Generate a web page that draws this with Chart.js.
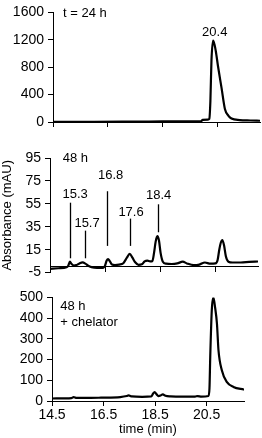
<!DOCTYPE html>
<html>
<head>
<meta charset="utf-8">
<script src="https://cdn.jsdelivr.net/npm/chart.js@4.4.1/dist/chart.umd.min.js"></script>
<style>
  html, body { margin: 0; padding: 0; background: #fff; }
  #wrap { position: relative; width: 262px; height: 438px; }
  canvas { position: absolute; left: 0; }
</style>
</head>
<body>
<div id="wrap">
  <canvas id="chart24" width="262" height="140" style="top:0"></canvas>
  <canvas id="chart48" width="262" height="145" style="top:140px"></canvas>
  <canvas id="chartChel" width="262" height="153" style="top:285px"></canvas>
</div>
<script>
// 공통 x축 눈금 (min)
const timeTicks = [14.5, 16.5, 18.5, 20.5];

// t = 24 h
const t24Time = [14.5, 16.0, 17.5, 18.5, 19.5, 19.9, 19.96, 20.15, 20.2, 20.24, 20.28, 20.34, 20.39, 20.44, 20.52, 20.65, 20.77, 20.9, 21.01, 21.31, 21.7, 22.05];
const t24Abs  = [2, 3, 6, 8, 10, 12, 30, 35, 45, 300, 900, 1190, 1130, 1030, 810, 490, 190, 90, 51, 28, 22, 18];
const t24Ticks = [0, 400, 800, 1200, 1600];

// 48 h
const t48Time = [14.5, 14.8, 15.1, 15.16, 15.22, 15.28, 15.36, 15.45, 15.55, 15.68, 15.78, 15.88, 16.0, 16.2, 16.42, 16.48, 16.55, 16.6, 16.66, 16.74, 16.85, 17.0, 17.15, 17.28, 17.38, 17.48, 17.58, 17.7, 17.82, 17.92, 18.02, 18.12, 18.2, 18.26, 18.32, 18.38, 18.44, 18.5, 18.58, 18.7, 18.9, 19.1, 19.3, 19.45, 19.7, 19.9, 20.1, 20.3, 20.48, 20.56, 20.62, 20.68, 20.73, 20.79, 20.86, 20.95, 21.1, 21.4, 21.7, 22.02];
const t48Abs  = [-1.8, -1.2, -0.3, 1.0, 4.5, 2.5, 1.2, 1.5, 2.8, 3.9, 2.8, 1.0, -0.2, -0.8, -0.8, 0.5, 5.5, 6.8, 5.0, 2.0, 1.6, 2.0, 3.2, 8.0, 11.3, 8.0, 4.0, 1.8, 2.2, 4.8, 5.5, 4.8, 5.0, 12.0, 22.0, 26.8, 23.0, 12.0, 4.5, 2.8, 2.5, 3.0, 4.5, 3.0, 1.5, 2.0, 3.8, 2.8, 3.0, 6.0, 15.0, 21.5, 23.3, 19.0, 9.0, 4.5, 3.8, 3.8, 4.3, 4.7];
const t48Ticks = [-5, 15, 35, 55, 75, 95];

// 48 h 피크 표시
const peakLabels     = ['15.3', '15.7', '16.8', '17.6', '18.4'];
const peakLabelTime  = [15.41, 15.84, 16.69, 17.43, 18.43];
const peakLabelAbs   = [63.1, 37.6, 79.9, 47.3, 62.2];
const peakLineTime   = [15.22, 15.75, 16.56, 17.38, 18.39];
const peakLineTop    = [56.0, 31.6, 66.0, 42.1, 54.6];
const peakLineBottom = [7.5, 7.5, 18.3, 18.3, 30.2];

// 48 h + chelator
const chelTime = [14.5, 15.0, 15.25, 15.34, 15.45, 16.0, 16.4, 17.15, 17.4, 17.47, 17.6, 18.0, 18.35, 18.42, 18.48, 18.56, 18.63, 18.72, 18.8, 18.9, 19.1, 19.6, 20.05, 20.15, 20.3, 20.57, 20.61, 20.64, 20.7, 20.76, 20.83, 20.9, 20.96, 21.09, 21.28, 21.54, 21.95];
const chelAbs  = [12, 13, 14, 19, 15, 15, 16, 19, 24, 27, 22, 20, 22, 35, 43, 32, 24, 27, 32, 25, 22, 21, 21, 24, 21, 24, 60, 213, 438, 500, 450, 374, 245, 148, 92, 68, 55];
const chelTicks = [0, 100, 200, 300, 400, 500];

const FONT = '"Liberation Sans", Arial, sans-serif';

// 텍스트, 피크 라인 그리기
const annotate = {
    id: 'annotate',
    afterDatasetsDraw(chart, args, opts) {
        const ctx = chart.ctx;
        const xs = chart.scales.x, ys = chart.scales.y, area = chart.chartArea;
        ctx.save();
        ctx.fillStyle = '#000';
        ctx.strokeStyle = '#000';
        ctx.lineWidth = 1.3;
        ctx.font = '13px ' + FONT;
        ctx.textBaseline = 'middle';
        (opts.notes || []).forEach(n => {
            ctx.textAlign = 'left';
            ctx.fillText(n.text, area.left + n.dx, area.top + n.dy);
        });
        (opts.labels || []).forEach(l => {
            ctx.textAlign = 'center';
            ctx.fillText(l.text, xs.getPixelForValue(l.x), ys.getPixelForValue(l.y));
            if (l.lineX !== undefined) {
                const px = Math.round(xs.getPixelForValue(l.lineX)) + 0.5;
                ctx.beginPath();
                ctx.moveTo(px, ys.getPixelForValue(l.top));
                ctx.lineTo(px, ys.getPixelForValue(l.bottom));
                ctx.stroke();
            }
        });
        ctx.restore();
    }
};

function makeChart(id, time, abs, o) {
    const ctx = document.getElementById(id).getContext('2d');
    return new Chart(ctx, {
        type: 'line',
        data: {
            datasets: [{
                data: time.map((t, i) => ({ x: t, y: abs[i] })),
                borderColor: '#000',
                borderWidth: 2.2,
                pointRadius: 0,
                cubicInterpolationMode: 'monotone',
                fill: false
            }]
        },
        options: {
            responsive: false,
            animation: false,
            devicePixelRatio: 1,
            layout: { padding: o.padding },
            plugins: {
                legend: { display: false },
                tooltip: { enabled: false },
                annotate: o.annotate
            },
            scales: {
                x: {
                    type: 'linear',
                    min: 14.5,
                    max: o.xMax,
                    position: o.xPosition || 'bottom',
                    afterBuildTicks: s => { s.ticks = timeTicks.map(v => ({ value: v })); },
                    afterFit: s => { if (o.xHeight !== undefined) s.height = o.xHeight; },
                    grid: { drawOnChartArea: false, drawTicks: true, tickLength: 5, color: '#000', tickColor: '#000', tickWidth: 1 },
                    border: { display: true, color: '#000', width: 1 },
                    ticks: {
                        display: o.xLabels,
                        padding: 1,
                        color: '#000',
                        font: { family: FONT, size: 14 },
                        maxRotation: 0,
                        callback: v => v.toFixed(1)
                    },
                    title: {
                        display: !!o.xTitle,
                        text: o.xTitle || '',
                        color: '#000',
                        font: { family: FONT, size: 13 },
                        padding: { top: 0, bottom: 1 }
                    }
                },
                y: {
                    min: o.yTicks[0],
                    max: o.yTicks[o.yTicks.length - 1],
                    afterBuildTicks: s => { s.ticks = o.yTicks.map(v => ({ value: v })); },
                    afterFit: s => { s.width = o.yWidth; },
                    grid: { drawOnChartArea: false, drawTicks: true, tickLength: 5, color: '#000', tickColor: '#000', tickWidth: 1 },
                    border: { display: true, color: '#000', width: 1 },
                    ticks: {
                        padding: 4,
                        color: '#000',
                        font: { family: FONT, size: 14 },
                        callback: v => String(v)
                    },
                    title: {
                        display: !!o.yTitle,
                        text: o.yTitle || '',
                        color: '#000',
                        font: { family: FONT, size: 13 },
                        padding: 0
                    }
                }
            }
        },
        plugins: [annotate]
    });
}

makeChart('chart24', t24Time, t24Abs, {
    padding: { top: 6, right: 2, left: 0, bottom: 0 },
    xMax: 22.05, xHeight: 18, xLabels: false,
    yTicks: t24Ticks, yWidth: 53,
    annotate: {
        notes: [{ text: 't = 24 h', dx: 10, dy: 1 }],
        labels: [{ text: '20.4', x: 20.4, y: 1310 }]
    }
});

makeChart('chart48', t48Time, t48Abs, {
    padding: { top: 18, right: 4, left: 0, bottom: 9 },
    xMax: 22.02, xPosition: { y: 0 }, xLabels: false,
    yTicks: t48Ticks, yWidth: 50, yTitle: 'Absorbance (mAU)',
    annotate: {
        notes: [{ text: '48 h', dx: 12.7, dy: 0 }],
        labels: peakLabels.map((txt, i) => ({
            text: txt, x: peakLabelTime[i], y: peakLabelAbs[i],
            lineX: peakLineTime[i], top: peakLineTop[i], bottom: peakLineBottom[i]
        }))
    }
});

makeChart('chartChel', chelTime, chelAbs, {
    padding: { top: 12, right: 18, left: 0, bottom: 0 },
    xMax: 21.95, xHeight: 37, xLabels: true, xTitle: 'time (min)',
    yTicks: chelTicks, yWidth: 52,
    annotate: {
        notes: [{ text: '48 h', dx: 8.3, dy: 9.4 }, { text: '+ chelator', dx: 8.3, dy: 25 }]
    }
});
</script>
</body>
</html>
